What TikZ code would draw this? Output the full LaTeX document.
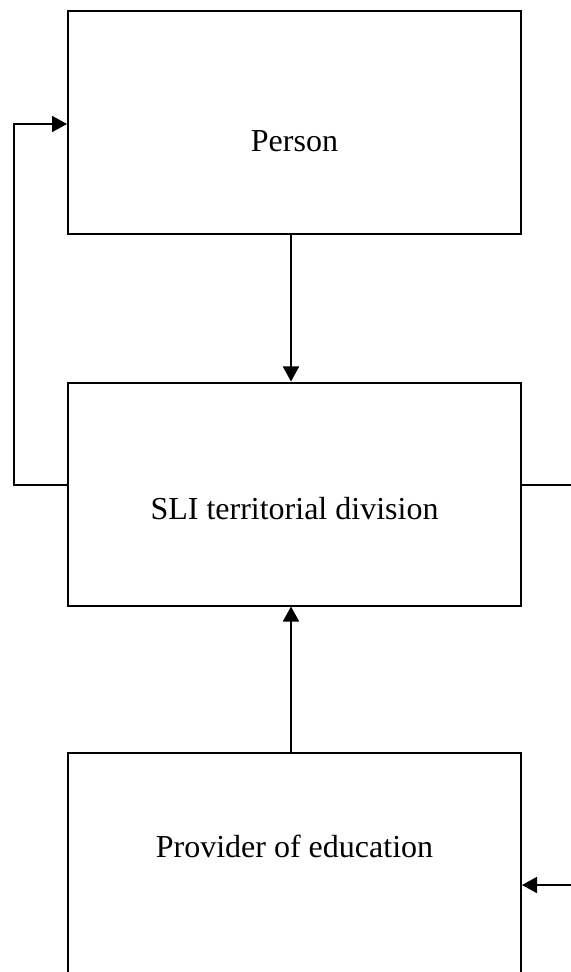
\documentclass[tikz,border=0pt]{standalone}
\usepackage{fontspec}
\setmainfont{Liberation Serif}
\usetikzlibrary{arrows.meta}
\begin{document}
\begin{tikzpicture}[x=0.5pt,y=-0.5pt,
  box/.style={draw,line width=1pt,rectangle,minimum width=226.5pt,minimum height=111.5pt,inner sep=0pt},
  lbl/.style={anchor=base,inner sep=0pt,font=\fontsize{16}{19}\selectfont},
  conn/.style={line width=0.85pt},
  arr/.style={conn,-{Triangle[length=7.5pt,width=8pt]}}]
\clip (0,0) rectangle (571,972);
\fill[white] (0,0) rectangle (571,972);
\node[box] (person) at (294.5,122.5) {};
\node[box] (sli) at (294.5,494) {};
\node[box] (prov) at (294.5,864.5) {};
\node[lbl] (tperson) at (294.5,152) {Person};
\node[lbl] (tsli) at (294.5,519) {SLI territorial division};
\node[lbl] (tprov) at (294.5,857) {Provider of education};
\coordinate (lb) at (14,485);
\coordinate (lt) at (14,124);
\coordinate (re) at (571,485);
\coordinate (ra) at (571,885);
\draw[arr] (person.south -| 291,0) -- (sli.north -| 291,0);
\draw[arr] (prov.north -| 291,0) -- (sli.south -| 291,0);
\draw[arr] (sli.west |- lb) -- (lb) -- (lt) -- (person.west |- lt);
\draw[conn] (sli.east |- re) -- (re);
\draw[arr] (ra) -- (prov.east |- ra);
\end{tikzpicture}
\end{document}
